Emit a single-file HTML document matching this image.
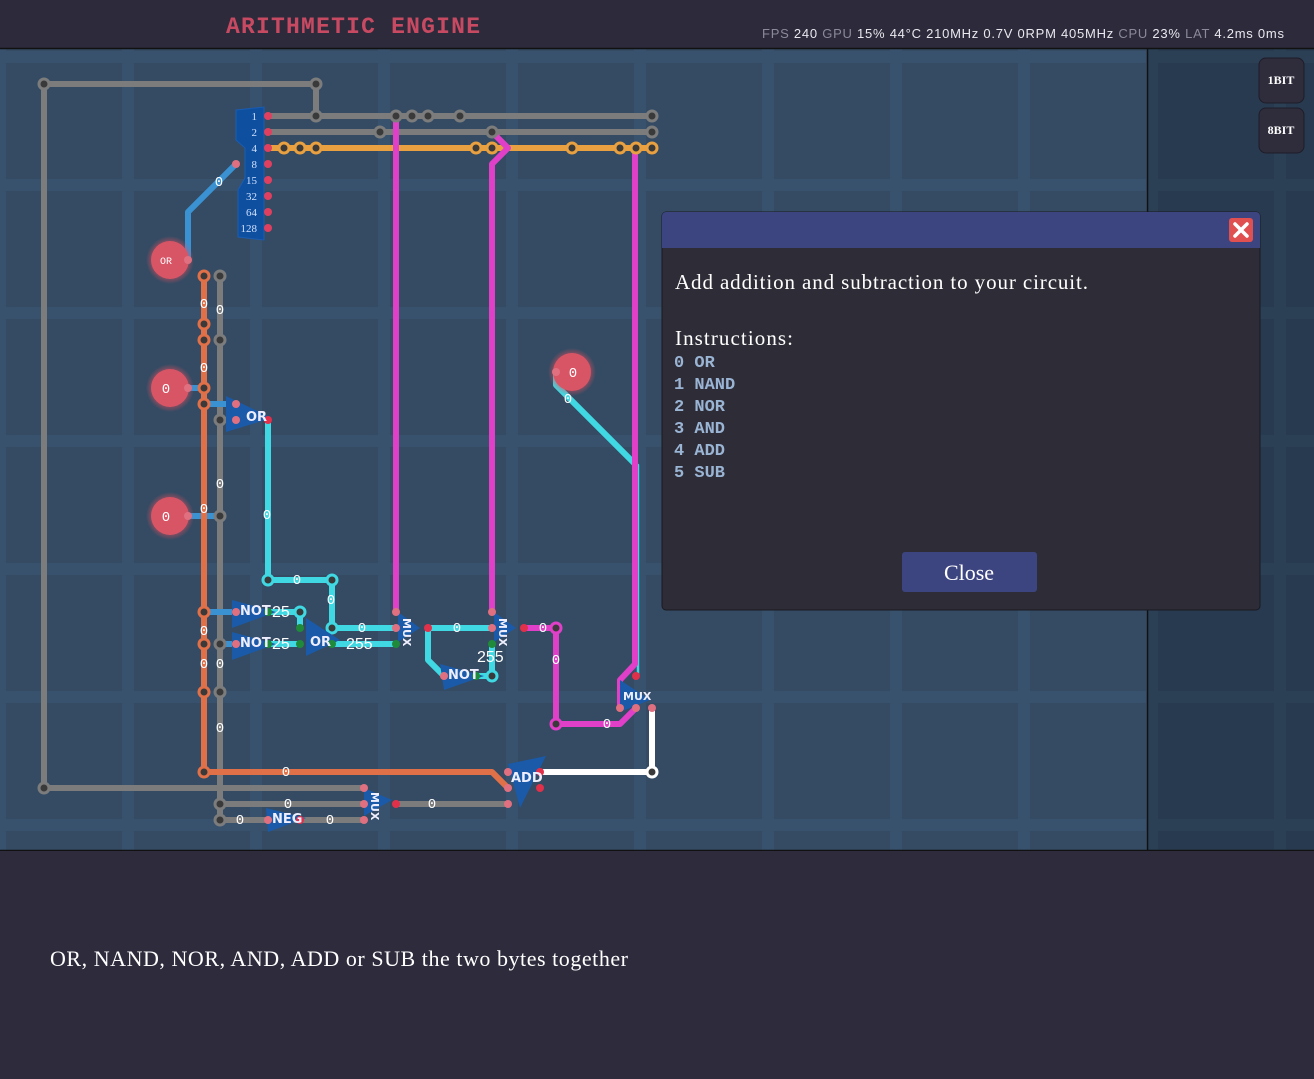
<!DOCTYPE html>
<html><head><meta charset="utf-8"><style>
html,body{margin:0;padding:0;width:1314px;height:1079px;overflow:hidden;background:#2e2b3c}
svg{display:block}
</style></head><body>
<svg width="1314" height="1079" viewBox="0 0 1314 1079" xmlns="http://www.w3.org/2000/svg">
<defs>
<pattern id="grid" x="0" y="57" width="128" height="128" patternUnits="userSpaceOnUse">
<rect width="128" height="128" fill="#38516c"/>
<rect x="6" y="6" width="116" height="116" fill="#344b63"/>
</pattern>
<pattern id="grid2" x="0" y="57" width="128" height="128" patternUnits="userSpaceOnUse">
<rect width="128" height="128" fill="#2b3f55"/>
<rect x="6" y="6" width="116" height="116" fill="#283a4f"/>
</pattern>
<radialGradient id="glow"><stop offset="0.7" stop-color="#e05060" stop-opacity="0.6"/><stop offset="1" stop-color="#e05060" stop-opacity="0"/></radialGradient>
</defs>
<rect x="0" y="0" width="1314" height="48" fill="#2d2a3b"/>
<text x="226" y="33" font-family="Liberation Mono, monospace" font-weight="bold" font-size="23" fill="#c84a62" textLength="254">ARITHMETIC ENGINE</text>
<text x="762" y="38" font-family="Liberation Sans, sans-serif" font-size="13" fill="#8a8a9a" textLength="522">FPS <tspan fill="#e8e8ee">240</tspan> GPU <tspan fill="#e8e8ee">15% 44°C 210MHz 0.7V 0RPM 405MHz</tspan> CPU <tspan fill="#e8e8ee">23%</tspan> LAT <tspan fill="#e8e8ee">4.2ms 0ms</tspan></text>
<rect x="0" y="48" width="1147" height="802" fill="url(#grid)"/>
<rect x="1147" y="48" width="167" height="802" fill="url(#grid2)"/>
<line x1="0" y1="48.5" x2="1314" y2="48.5" stroke="#111" stroke-width="1.5"/>
<line x1="1147.5" y1="48" x2="1147.5" y2="850" stroke="#111" stroke-width="1.5"/>
<line x1="0" y1="850.5" x2="1314" y2="850.5" stroke="#111" stroke-width="1.5"/>
<rect x="0" y="851" width="1314" height="228" fill="#2e2b3c"/>
<rect x="1259" y="58" width="45" height="45" rx="7" fill="#2f2c3c" stroke="#1e1d28"/>
<rect x="1259" y="108" width="45" height="45" rx="7" fill="#2f2c3c" stroke="#1e1d28"/>
<text x="1281" y="84" text-anchor="middle" font-family="Liberation Serif, serif" font-weight="bold" font-size="12" fill="#fff">1BIT</text>
<text x="1281" y="134" text-anchor="middle" font-family="Liberation Serif, serif" font-weight="bold" font-size="12" fill="#fff">8BIT</text>

<g fill="none" stroke-linecap="round" stroke-linejoin="round" stroke-width="6">
<path d="M44 84H316V116M44 84V788H364" stroke="#7c7c7c"/>
<path d="M268 116H652M268 132H652" stroke="#7c7c7c"/>
<path d="M220 276V820M220 804H364M220 820H364M396 804H508" stroke="#7c7c7c"/>
<path d="M268 148H652" stroke="#e8a040"/>
<path d="M556 372V385L634 463" stroke="#40d8e2"/>
<path d="M638 465V676" stroke="#40d8e2" stroke-width="2.5"/>
<path d="M396 116V612M492 132L508 148L492 164V612M635 148V664L620 680V708" stroke="#e040c8"/>
<path d="M524 628H556V724H620L636 708" stroke="#e040c8"/>
<path d="M188 260V212L236 164" stroke="#3a92d2"/>
<path d="M188 388H204M188 516H220M204 404H236M220 420H236M204 612H236M220 644H236" stroke="#3a92d2"/>
<path d="M204 276V772H492L508 788" stroke="#e07048"/>
<path d="M268 420V580H332V628H396M300 612V628M268 612H300M268 644H300M332 644H396" stroke="#40d8e2"/>
<path d="M428 628H492M428 628V660L444 676M476 676H492V644" stroke="#40d8e2"/>
<path d="M652 708V772H540" stroke="#ffffff"/>
</g>
<g stroke-width="3" fill="#3a3a3a">
<g stroke="#7c7c7c">
<circle cx="44" cy="84" r="5"/><circle cx="316" cy="84" r="5"/><circle cx="44" cy="788" r="5"/>
<circle cx="316" cy="116" r="5"/><circle cx="396" cy="116" r="5"/><circle cx="412" cy="116" r="5"/><circle cx="428" cy="116" r="5"/><circle cx="460" cy="116" r="5"/><circle cx="652" cy="116" r="5"/>
<circle cx="380" cy="132" r="5"/><circle cx="492" cy="132" r="5"/><circle cx="652" cy="132" r="5"/>
<circle cx="220" cy="276" r="5"/><circle cx="220" cy="340" r="5"/><circle cx="220" cy="420" r="5"/><circle cx="220" cy="516" r="5"/><circle cx="220" cy="644" r="5"/><circle cx="220" cy="692" r="5"/><circle cx="220" cy="804" r="5"/><circle cx="220" cy="820" r="5"/>
</g>
<g stroke="#e8a040"><circle cx="284" cy="148" r="5"/><circle cx="300" cy="148" r="5"/><circle cx="316" cy="148" r="5"/><circle cx="476" cy="148" r="5"/><circle cx="492" cy="148" r="5"/><circle cx="572" cy="148" r="5"/><circle cx="620" cy="148" r="5"/><circle cx="636" cy="148" r="5"/><circle cx="652" cy="148" r="5"/></g>
<g stroke="#e07048"><circle cx="204" cy="276" r="5"/><circle cx="204" cy="324" r="5"/><circle cx="204" cy="340" r="5"/><circle cx="204" cy="388" r="5"/><circle cx="204" cy="404" r="5"/><circle cx="204" cy="612" r="5"/><circle cx="204" cy="644" r="5"/><circle cx="204" cy="692" r="5"/><circle cx="204" cy="772" r="5"/></g>
<g stroke="#40d8e2"><circle cx="268" cy="580" r="5"/><circle cx="332" cy="580" r="5"/><circle cx="300" cy="612" r="5"/><circle cx="332" cy="628" r="5"/><circle cx="492" cy="676" r="5"/></g>
<g stroke="#e040c8"><circle cx="556" cy="628" r="5"/><circle cx="556" cy="724" r="5"/></g>
<g stroke="#ffffff"><circle cx="652" cy="772" r="5"/></g>
</g>
<g>
<circle cx="170" cy="260" r="24" fill="url(#glow)"/><circle cx="170" cy="388" r="24" fill="url(#glow)"/><circle cx="170" cy="516" r="24" fill="url(#glow)"/><circle cx="572" cy="372" r="24" fill="url(#glow)"/>
<circle cx="170" cy="260" r="19" fill="#d85566"/><circle cx="170" cy="388" r="19" fill="#d85566"/><circle cx="170" cy="516" r="19" fill="#d85566"/><circle cx="572" cy="372" r="19" fill="#d85566"/>
</g>
<path d="M236 110L264 107V240L238 237V190L245 178V148L236 140Z" fill="#0e4fa0" stroke="#1a5cb0"/>
<g font-family="Liberation Serif, serif" font-size="11" fill="#cfe0ff" text-anchor="end">
<text x="257" y="120">1</text><text x="257" y="136">2</text><text x="257" y="152">4</text><text x="257" y="168">8</text><text x="257" y="184">15</text><text x="257" y="200">32</text><text x="257" y="216">64</text><text x="257" y="232">128</text>
</g>
<g fill="#e04060"><circle cx="268" cy="116" r="4"/><circle cx="268" cy="132" r="4"/><circle cx="268" cy="148" r="4"/><circle cx="268" cy="164" r="4"/><circle cx="268" cy="180" r="4"/><circle cx="268" cy="196" r="4"/><circle cx="268" cy="212" r="4"/><circle cx="268" cy="228" r="4"/></g>
<g fill="#1a5aa8">
<path d="M226 396L272 418L226 432Z"/>
<path d="M232 600L276 612L232 628Z"/>
<path d="M232 632L276 644L232 660Z"/>
<path d="M306 618L340 640L306 656Z"/>
<path d="M398 612L420 628L398 642Z"/>
<path d="M494 612L516 628L494 642Z"/>
<path d="M440 664L484 676L444 690Z"/>
<path d="M620 680L650 700L620 712Z"/>
<path d="M508 764L546 756L520 808Z"/>
<path d="M364 788L392 800L364 816Z"/>
<path d="M266 808L306 818L268 832Z"/>
</g>
<g fill="#e07080">
<circle cx="188" cy="260" r="4"/><circle cx="188" cy="388" r="4"/><circle cx="188" cy="516" r="4"/><circle cx="556" cy="372" r="4"/>
<circle cx="236" cy="404" r="4"/><circle cx="236" cy="420" r="4"/><circle cx="236" cy="164" r="4"/>
<circle cx="236" cy="612" r="4"/><circle cx="236" cy="644" r="4"/>
<circle cx="396" cy="612" r="4"/><circle cx="396" cy="628" r="4"/><circle cx="492" cy="612" r="4"/><circle cx="492" cy="628" r="4"/>
<circle cx="444" cy="676" r="4"/><circle cx="620" cy="708" r="4"/><circle cx="636" cy="708" r="4"/><circle cx="652" cy="708" r="4"/>
<circle cx="508" cy="772" r="4"/><circle cx="508" cy="788" r="4"/><circle cx="508" cy="804" r="4"/>
<circle cx="364" cy="788" r="4"/><circle cx="364" cy="804" r="4"/><circle cx="364" cy="820" r="4"/><circle cx="268" cy="820" r="4"/>
</g>
<g fill="#e0304a"><circle cx="268" cy="420" r="4"/><circle cx="428" cy="628" r="4"/><circle cx="524" cy="628" r="4"/><circle cx="636" cy="676" r="4"/><circle cx="540" cy="772" r="4"/><circle cx="540" cy="788" r="4"/><circle cx="396" cy="804" r="4"/><circle cx="300" cy="820" r="4"/></g>
<g fill="#1f8a3a"><circle cx="268" cy="612" r="4"/><circle cx="268" cy="644" r="4"/><circle cx="300" cy="628" r="4"/><circle cx="300" cy="644" r="4"/><circle cx="332" cy="644" r="4"/><circle cx="396" cy="644" r="4"/><circle cx="492" cy="644" r="4"/><circle cx="476" cy="676" r="4"/></g>
<g font-family="DejaVu Sans, sans-serif" font-weight="bold" font-size="13" fill="#eef">
<text x="246" y="421">OR</text><text x="240" y="615">NOT</text><text x="240" y="647">NOT</text><text x="310" y="646">OR</text>
<text x="448" y="679">NOT</text><text x="511" y="782">ADD</text><text x="272" y="823">NEG</text>
<text x="623" y="700" font-size="11">MUX</text>
<text transform="translate(403,618) rotate(90)" font-size="11">MUX</text>
<text transform="translate(499,618) rotate(90)" font-size="11">MUX</text>
<text transform="translate(371,792) rotate(90)" font-size="11">MUX</text>
</g>
<g font-family="Liberation Mono, monospace" font-size="14" fill="#fff" text-anchor="middle">
<text x="166" y="264" font-size="10">OR</text><text x="166" y="393">0</text><text x="166" y="521">0</text><text x="573" y="377">0</text>
<text x="219" y="186">0</text><text x="204" y="308">0</text><text x="220" y="314">0</text><text x="204" y="372">0</text><text x="220" y="488">0</text><text x="204" y="513">0</text>
<text x="267" y="519">0</text><text x="297" y="584">0</text><text x="331" y="604">0</text><text x="362" y="632">0</text><text x="457" y="632">0</text><text x="543" y="632">0</text>
<text x="556" y="664">0</text><text x="607" y="728">0</text><text x="568" y="403">0</text>
<text x="204" y="635">0</text><text x="204" y="668">0</text><text x="220" y="668">0</text><text x="220" y="732">0</text>
<text x="286" y="776">0</text><text x="288" y="808">0</text><text x="432" y="808">0</text><text x="240" y="824">0</text><text x="330" y="824">0</text>
</g>
<g font-family="Liberation Sans, sans-serif" font-size="16" fill="#fff">
<text x="272" y="617">25</text><text x="272" y="649">25</text><text x="346" y="649">255</text><text x="477" y="662">255</text>
</g>
<rect x="662" y="212" width="598" height="398" rx="4" fill="#2e2c37" stroke="#1a1a22"/>
<path d="M662 248V216a4 4 0 0 1 4-4H1256a4 4 0 0 1 4 4V248Z" fill="#3d4580"/>
<rect x="1229" y="218" width="24" height="24" rx="3" fill="#e05050"/>
<path d="M1235 224L1247 236M1247 224L1235 236" stroke="#fff" stroke-width="3.5" stroke-linecap="round"/>
<text x="675" y="289" font-family="Liberation Serif, serif" font-size="21" fill="#fff" textLength="413">Add addition and subtraction to your circuit.</text>
<text x="675" y="345" font-family="Liberation Serif, serif" font-size="21" fill="#fff" textLength="118">Instructions:</text>
<g font-family="Liberation Mono, monospace" font-weight="bold" font-size="17" fill="#9ab4d4">
<text x="674" y="367">0 OR</text><text x="674" y="389">1 NAND</text><text x="674" y="411">2 NOR</text><text x="674" y="433">3 AND</text><text x="674" y="455">4 ADD</text><text x="674" y="477">5 SUB</text>
</g>
<rect x="902" y="552" width="135" height="40" rx="3" fill="#3d4580"/>
<text x="969" y="580" text-anchor="middle" font-family="Liberation Serif, serif" font-size="22" fill="#fff">Close</text>
<text x="50" y="966" font-family="Liberation Serif, serif" font-size="22" fill="#fff" textLength="578">OR, NAND, NOR, AND, ADD or SUB the two bytes together</text>
</svg>
</body></html>
